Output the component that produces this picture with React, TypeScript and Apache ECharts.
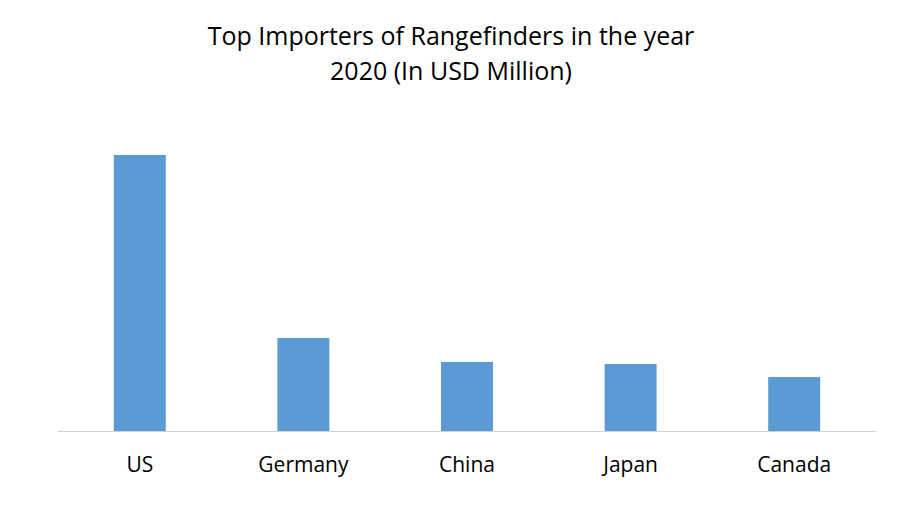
import React, { useEffect, useRef } from "react";
import * as echarts from "echarts";

const categories = ["US", "Germany", "China", "Japan", "Canada"];
const importValues = [276, 93, 69, 67, 54];
const titleText = "Top Importers of Rangefinders in the year\n2020 (In USD Million)";

export default function App() {
  const ref = useRef<HTMLDivElement>(null);
  useEffect(() => {
    if (!ref.current) return;
    const chart = echarts.init(ref.current, null, { renderer: "svg" });
    chart.setOption({
      animation: false,
      backgroundColor: "#ffffff",
      title: {
        text: titleText,
        left: "center",
        top: 4,
        textStyle: {
          fontFamily: "Open Sans",
          fontSize: 25,
          fontWeight: "normal",
          color: "#000000",
          lineHeight: 35,
        },
      },
      grid: { left: 50, right: 18, top: 123, bottom: 88 },
      xAxis: {
        type: "category",
        data: categories,
        axisLine: { lineStyle: { color: "#d0d0d0", width: 1 } },
        axisTick: { show: false },
        axisLabel: {
          fontFamily: "Open Sans",
          fontSize: 21,
          color: "#000000",
          margin: 22,
        },
      },
      yAxis: {
        type: "value",
        min: 0,
        max: 300,
        show: false,
        splitLine: { show: false },
      },
      series: [
        {
          type: "bar",
          data: importValues,
          barWidth: 52,
          itemStyle: { color: "#5b9bd5" },
        },
      ],
    });
    return () => chart.dispose();
  }, []);
  return <div ref={ref} style={{ width: 886, height: 511 }} />;
}
